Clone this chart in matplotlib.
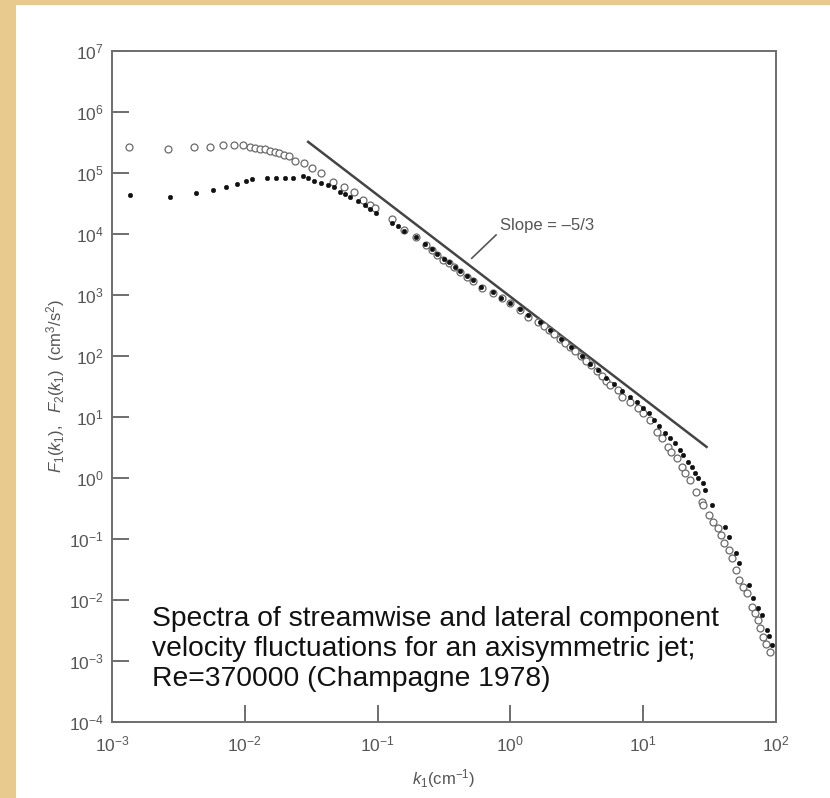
import numpy as np
import matplotlib
matplotlib.use("Agg")
import matplotlib.pyplot as plt
from matplotlib import font_manager as fm
from matplotlib.patches import Rectangle

# ---------------- data (log10 values) ----------------
# streamwise spectrum F1 (open circles)
f1_log_k = [-2.872, -2.581, -2.38, -2.262, -2.162, -2.081, -2.016, -1.961, -1.923, -1.886,
            -1.848, -1.81, -1.773, -1.74, -1.705, -1.67, -1.62, -1.554, -1.492, -1.428,
            -1.333, -1.25, -1.177, -1.112, -1.057, -1.02, -0.894, -0.799, -0.713, -0.638,
            -0.593, -0.55, -0.505, -0.46, -0.425, -0.38, -0.329, -0.28, -0.216, -0.129,
            -0.066, -0.003, 0.072, 0.135, 0.21, 0.25, 0.29, 0.33, 0.37, 0.41, 0.45, 0.49,
            0.53, 0.57, 0.61, 0.65, 0.69, 0.72, 0.75, 0.813, 0.838, 0.9, 0.963, 1.0, 1.05,
            1.101, 1.138, 1.188, 1.213, 1.251, 1.289, 1.315, 1.352, 1.395, 1.44, 1.453,
            1.498, 1.528, 1.561, 1.584, 1.609, 1.646, 1.666, 1.696, 1.724, 1.754, 1.779,
            1.816, 1.841, 1.866, 1.879, 1.904, 1.925, 1.955]
f1_log_F = [5.426, 5.383, 5.42, 5.42, 5.454, 5.454, 5.454, 5.426, 5.41, 5.393,
            5.384, 5.36, 5.339, 5.318, 5.295, 5.269, 5.197, 5.159, 5.08, 4.987,
            4.848, 4.761, 4.689, 4.552, 4.47, 4.416, 4.236, 4.061, 3.951, 3.815,
            3.733, 3.651, 3.569, 3.525, 3.449, 3.377, 3.295, 3.23, 3.105, 3.023,
            2.941, 2.859, 2.749, 2.64, 2.557, 2.49, 2.42, 2.35, 2.28, 2.21, 2.14, 2.07,
            1.99, 1.92, 1.84, 1.75, 1.66, 1.59, 1.52, 1.438, 1.328, 1.246, 1.138, 1.056, 0.946,
            0.754, 0.646, 0.508, 0.426, 0.318, 0.18, 0.072, -0.038, -0.23, -0.393, -0.448,
            -0.612, -0.721, -0.83, -0.939, -1.076, -1.185, -1.321, -1.513, -1.677, -1.787, -1.895,
            -2.115, -2.223, -2.332, -2.469, -2.606, -2.72, -2.85]

# lateral spectrum F2 (filled dots)
f2_log_k = [-2.864, -2.563, -2.37, -2.237, -2.144, -2.061, -1.993, -1.946, -1.835, -1.765,
            -1.697, -1.635, -1.564, -1.522, -1.477, -1.428, -1.376, -1.328, -1.283, -1.245,
            -1.208, -1.145, -1.095, -1.057, -1.014, -0.894, -0.85, -0.8, -0.71, -0.64,
            -0.59, -0.55, -0.5, -0.46, -0.42, -0.38, -0.33, -0.28, -0.22, -0.13, -0.07,
            0.0, 0.07, 0.13, 0.22, 0.3, 0.38, 0.46, 0.54, 0.6, 0.66, 0.72, 0.78, 0.84,
            0.9, 0.95, 1.0, 1.04, 1.08, 1.12, 1.164, 1.202, 1.239, 1.277, 1.302, 1.34,
            1.364, 1.39, 1.415, 1.447, 1.465, 1.52, 1.616, 1.648, 1.696, 1.724, 1.797,
            1.83, 1.866, 1.891, 1.934, 1.95, 1.97]
f2_log_F = [4.634, 4.607, 4.662, 4.711, 4.761, 4.815, 4.864, 4.892, 4.913, 4.908,
            4.918, 4.908, 4.946, 4.908, 4.869, 4.826, 4.798, 4.761, 4.689, 4.651,
            4.607, 4.536, 4.47, 4.4, 4.334, 4.18, 4.12, 4.05, 3.94, 3.83,
            3.75, 3.67, 3.59, 3.53, 3.46, 3.39, 3.31, 3.24, 3.13, 3.04, 2.95,
            2.87, 2.76, 2.66, 2.56, 2.42, 2.28, 2.14, 2.0, 1.87, 1.76, 1.64, 1.54, 1.42,
            1.32, 1.24, 1.15, 1.06, 0.95, 0.84, 0.728, 0.646, 0.564, 0.454, 0.372, 0.262,
            0.17, 0.072, -0.01, -0.092, -0.202, -0.448, -0.803, -0.967, -1.23, -1.404, -1.759,
            -1.978, -2.141, -2.251, -2.497, -2.6, -2.75]

# -5/3 reference line
slope_k = [0.03, 30.0]
slope_F = [3.2e5, 3.2]

x_ticks = [1e-3, 1e-2, 1e-1, 1e0, 1e1, 1e2]
x_tick_labels = [r"$10^{-3}$", r"$10^{-2}$", r"$10^{-1}$", r"$10^{0}$", r"$10^{1}$", r"$10^{2}$"]
y_ticks = [1e-4, 1e-3, 1e-2, 1e-1, 1e0, 1e1, 1e2, 1e3, 1e4, 1e5, 1e6, 1e7]
y_tick_labels = [r"$10^{-4}$", r"$10^{-3}$", r"$10^{-2}$", r"$10^{-1}$", r"$10^{0}$", r"$10^{1}$",
                 r"$10^{2}$", r"$10^{3}$", r"$10^{4}$", r"$10^{5}$", r"$10^{6}$", r"$10^{7}$"]

caption = ("Spectra of streamwise and lateral component\n"
           "velocity fluctuations for an axisymmetric jet;\n"
           "Re=370000 (Champagne 1978)")
slope_text = "Slope = \u20135/3"

# ---------------- styling ----------------
names = {f.name for f in fm.fontManager.ttflist}
tick_font = "Liberation Sans Narrow" if "Liberation Sans Narrow" in names else "Liberation Sans"
plt.rcParams["font.family"] = ["Liberation Sans", "DejaVu Sans"]
plt.rcParams["mathtext.fontset"] = "custom"
plt.rcParams["mathtext.rm"] = tick_font
plt.rcParams["mathtext.it"] = tick_font + ":italic"
plt.rcParams["mathtext.default"] = "regular"

W, H = 830, 798
fig = plt.figure(figsize=(W / 100, H / 100), dpi=100)
fig.patch.set_facecolor("#E8C98E")
bg = Rectangle((16 / W, 0), 1 - 16 / W, 1 - 5 / H, transform=fig.transFigure,
               facecolor="white", edgecolor="none", zorder=-10)
fig.add_artist(bg)

ax_l, ax_r, ax_t, ax_b = 112, 776, 50.7, 721.7
ax = fig.add_axes([ax_l / W, 1 - ax_b / H, (ax_r - ax_l) / W, (ax_b - ax_t) / H])
ax.set_zorder(1)
ax.set_facecolor("white")
ax.set_xscale("log")
ax.set_yscale("log")
ax.set_xlim(1e-3, 1e2)
ax.set_ylim(1e-4, 1e7)

grey = "#6e6e6e"
for s in ax.spines.values():
    s.set_color(grey)
    s.set_linewidth(1.4)

ax.set_xticks(x_ticks)
ax.set_xticklabels(x_tick_labels)
ax.set_yticks(y_ticks)
ax.set_yticklabels(y_tick_labels)
ax.minorticks_off()
ax.tick_params(axis="both", which="major", direction="in", length=12.5, width=1.4,
               color=grey, labelcolor="#555555", labelsize=12.5)
ax.tick_params(axis="x", pad=9)
ax.tick_params(axis="y", pad=6)

k1 = 10.0 ** np.array(f1_log_k)
F1 = 10.0 ** np.array(f1_log_F)
k2 = 10.0 ** np.array(f2_log_k)
F2 = 10.0 ** np.array(f2_log_F)

ax.plot(k1, F1, linestyle="none", marker="o", markersize=5, markerfacecolor="white",
        markeredgecolor="#6a6a6a", markeredgewidth=0.9, zorder=3)
ax.plot(k2, F2, linestyle="none", marker="o", markersize=3.2, markerfacecolor="#111111",
        markeredgecolor="#111111", markeredgewidth=0.4, zorder=4)
ax.plot(slope_k, slope_F, color="#444444", linewidth=1.8, zorder=2)

# slope annotation with leader line
ax.plot([10 ** -0.108, 10 ** -0.291], [10 ** 3.979, 10 ** 3.597], color="#555555", linewidth=1.2)
ax.text(10 ** -0.078, 10 ** 4.14, slope_text, fontsize=12, color="#555555",
        ha="left", va="center")

ax.text(0.06, 0.045, caption, transform=ax.transAxes, fontsize=20.3, color="#111111",
        ha="left", va="bottom", linespacing=1.2)

ax.set_xlabel(r"$\mathit{k}_1$(cm$^{-1}$)", fontsize=12, color="#555555", labelpad=9)
ax.set_ylabel(r"$\mathit{F}_1(\mathit{k}_1),\ \ \mathit{F}_2(\mathit{k}_1)\ \ $(cm$^3$/s$^2$)",
              fontsize=12, color="#555555", labelpad=1)

fig.savefig("out.png", dpi=100, facecolor=fig.get_facecolor())
